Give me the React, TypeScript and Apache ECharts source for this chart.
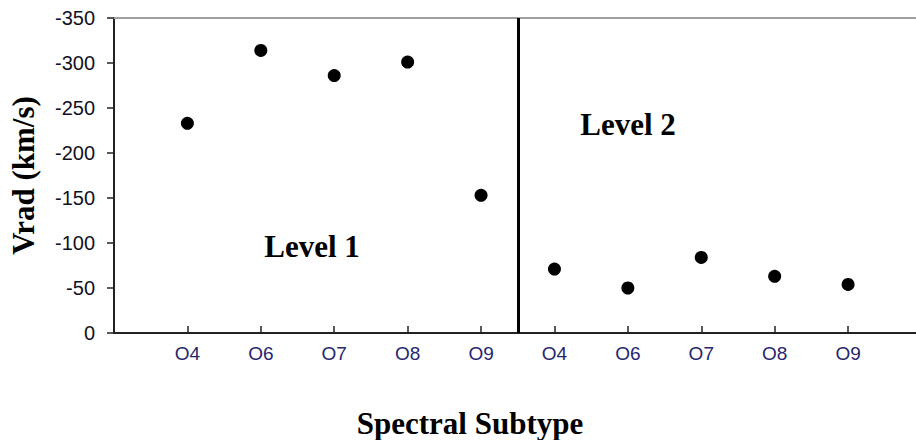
import React, { useEffect, useRef } from "react";
import * as echarts from "echarts";

const subtypes = ["O4", "O6", "O7", "O8", "O9", "O4", "O6", "O7", "O8", "O9"];
const level1Values = [-233, -314, -286, -301, -153];
const level2Values = [-71, -50, -84, -63, -54];
const yTicks = [-350, -300, -250, -200, -150, -100, -50, 0];
const dividerPosition = 5.5;
const xAxisMax = 10.925;

export default function App() {
  const ref = useRef<HTMLDivElement>(null);
  useEffect(() => {
    if (!ref.current) return;
    const chart = echarts.init(ref.current, null, { renderer: "svg" });
    const positions = subtypes.map((_, i) => i + 1);
    const data = [...level1Values, ...level2Values].map((v, i) => [positions[i], v]);
    const serif = "'Liberation Serif', 'Times New Roman', serif";
    const sans = "'Liberation Sans', Arial, sans-serif";
    chart.setOption({
      animation: false,
      backgroundColor: "#ffffff",
      grid: { left: 113, top: 18, bottom: 107, right: 0, containLabel: false },
      xAxis: [
        {
          type: "value",
          min: 0,
          max: xAxisMax,
          interval: 1,
          position: "bottom",
          axisLine: { onZero: false, lineStyle: { color: "#222", width: 2 } },
          axisTick: {
            inside: true,
            length: 7,
            lineStyle: { color: "#222", width: 1.5 },
            customValues: positions,
          },
          axisLabel: {
            customValues: positions,
            formatter: (v: number) => subtypes[Math.round(v) - 1] ?? "",
            color: "#26266e",
            fontFamily: sans,
            fontSize: 19,
            margin: 11,
          },
          splitLine: { show: false },
        },
        {
          type: "value",
          min: 0,
          max: xAxisMax,
          position: "top",
          axisLine: { show: true, onZero: false, lineStyle: { color: "#a0a0a0", width: 2 } },
          axisTick: { show: false },
          axisLabel: { show: false },
          splitLine: { show: false },
        },
      ],
      yAxis: {
        type: "value",
        inverse: true,
        min: yTicks[0],
        max: yTicks[yTicks.length - 1],
        interval: 50,
        name: "Vrad (km/s)",
        nameLocation: "middle",
        nameRotate: 90,
        nameGap: 75,
        nameTextStyle: { fontFamily: serif, fontWeight: "bold", fontSize: 31, color: "#000" },
        axisLine: { show: true, onZero: false, lineStyle: { color: "#222", width: 2 } },
        axisTick: { show: true, inside: false, length: 7, lineStyle: { color: "#222", width: 1.5 } },
        axisLabel: { color: "#111122", fontFamily: sans, fontSize: 20, margin: 19 },
        splitLine: { show: false },
      },
      series: [
        {
          type: "scatter",
          data,
          symbol: "circle",
          symbolSize: 13,
          itemStyle: { color: "#000", opacity: 1 },
          markLine: {
            silent: true,
            symbol: "none",
            label: { show: false },
            lineStyle: { color: "#000", width: 3, type: "solid", opacity: 1 },
            data: [{ xAxis: dividerPosition }],
          },
        },
      ],
      graphic: [
        {
          type: "text",
          x: 312,
          y: 246,
          style: {
            text: "Level 1",
            font: `bold 31px ${serif}`,
            fill: "#000",
            textAlign: "center",
            textVerticalAlign: "middle",
          },
        },
        {
          type: "text",
          x: 628,
          y: 124,
          style: {
            text: "Level 2",
            font: `bold 31px ${serif}`,
            fill: "#000",
            textAlign: "center",
            textVerticalAlign: "middle",
          },
        },
        {
          type: "text",
          x: 470,
          y: 423,
          style: {
            text: "Spectral Subtype",
            font: `bold 31px ${serif}`,
            fill: "#000",
            textAlign: "center",
            textVerticalAlign: "middle",
          },
        },
      ],
    });
    return () => chart.dispose();
  }, []);
  return (
    <div
      ref={ref}
      style={{ position: "fixed", left: 0, top: 0, width: 916, height: 440, background: "#fff" }}
    />
  );
}
